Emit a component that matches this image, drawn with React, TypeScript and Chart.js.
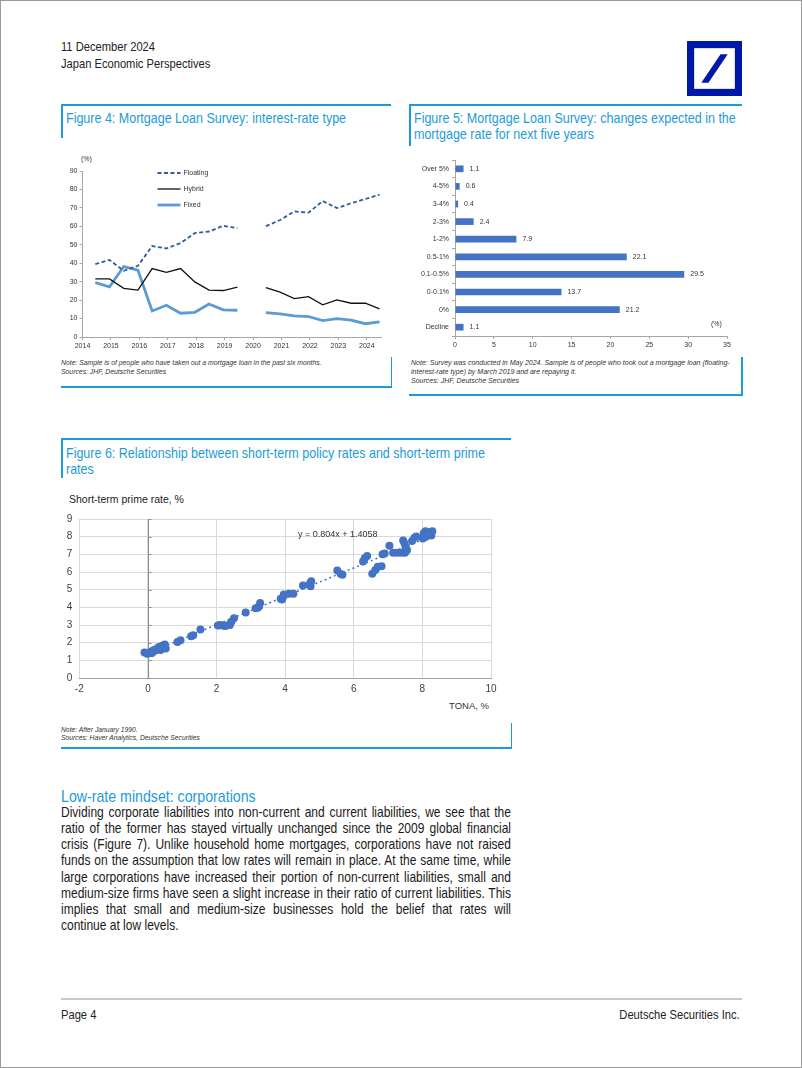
import React, { useEffect, useRef } from 'react';
import { Chart, registerables } from 'chart.js';

Chart.register(...registerables);

const CHART_FONT = "'Liberation Sans', Arial, sans-serif";
const PAGE_FONT = "'Liberation Sans', Arial, sans-serif";
const TITLE_BLUE = '#1d9bd6';
const BAR_BLUE = '#4472c4';
const SQUEEZE = 0.9;
const BODY_SQUEEZE = 0.865;

Chart.defaults.font.family = CHART_FONT;

// ---------- Figure 4: interest-rate type (share, %) ----------
const surveyTimes = [
  2014.45, 2014.95, 2015.45, 2015.95, 2016.45, 2016.95, 2017.45, 2017.95, 2018.45, 2018.95,
  2019.45, 2019.95, 2020.45, 2020.95, 2021.45, 2021.95, 2022.45, 2022.95, 2023.45, 2023.95, 2024.45,
];
const yearTicks = [2014, 2015, 2016, 2017, 2018, 2019, 2020, 2021, 2022, 2023, 2024];
const floatingShare = [39.5, 41.8, 35.9, 38.6, 49.3, 48.0, 50.9, 56.3, 57.2, 60.3, 59.1, null, 60.1, 63.4, 68.1, 67.4, 73.7, 69.9, 72.5, 74.8, 77.2];
const hybridShare = [31.5, 31.5, 26.4, 25.4, 37.1, 35.1, 37.1, 29.9, 25.4, 25.2, 27.0, null, 26.8, 24.3, 20.8, 21.9, 17.4, 20.1, 18.3, 18.3, 15.2];
const fixedShare = [29.5, 27.2, 38.2, 36.2, 14.1, 17.2, 12.9, 13.4, 17.9, 14.7, 14.5, null, 13.2, 12.5, 11.4, 11.1, 8.9, 10.0, 9.2, 7.2, 8.2];

// ---------- Figure 5: expected change in mortgage rate (%) ----------
const rateChangeCategories = ['Over 5%', '4-5%', '3-4%', '2-3%', '1-2%', '0.5-1%', '0.1-0.5%', '0-0.1%', '0%', 'Decline'];
const rateChangeShares = [1.1, 0.6, 0.4, 2.4, 7.9, 22.1, 29.5, 13.7, 21.2, 1.1];

// ---------- Figure 6: TONA vs short-term prime rate ----------
const tonaRates = [
  -0.1, -0.02, 0.08, 0.17, 0.27, 0.32, 0.42, 0.49, 0.52, 0.37, 0.12, 0.22, 0.05, 0.45,
  0.86, 0.95, 1.26, 1.32, 1.53,
  2.04, 2.17, 2.29, 2.39, 2.43, 2.51, 2.1, 2.25,
  2.85, 3.14, 3.24, 3.27, 3.2,
  3.87, 3.91, 3.96, 4.11, 4.24, 3.96,
  4.52, 4.72, 4.76, 4.74,
  5.52, 5.62, 5.67,
  6.27, 6.32, 6.39,
  6.54, 6.63, 6.7, 6.81,
  6.84, 6.9, 7.04,
  7.15, 7.27, 7.38, 7.49, 7.54,
  7.44, 7.48, 7.51, 7.55,
  7.7, 7.77, 7.82,
  8.01, 8.04, 8.09, 8.14, 8.22, 8.26, 8.29, 8.09, 8.2,
];
const primeRates = [
  1.45, 1.37, 1.49, 1.58, 1.67, 1.76, 1.82, 1.89, 1.67, 1.58, 1.42, 1.55, 1.4, 1.75,
  2.04, 2.13, 2.36, 2.42, 2.75,
  2.97, 2.97, 2.97, 3.0, 3.19, 3.38, 3.0, 2.95,
  3.71, 3.95, 4.05, 4.24, 3.98,
  4.49, 4.45, 4.73, 4.77, 4.77, 4.64,
  5.23, 5.34, 5.47, 5.19,
  6.09, 5.89, 5.85,
  6.59, 6.78, 6.91,
  5.9, 6.12, 6.3, 6.33,
  7.01, 7.05, 7.48,
  7.09, 7.09, 7.09, 7.09, 7.22,
  7.79, 7.61, 7.42, 7.24,
  7.76, 7.94, 8.01,
  7.89, 8.2, 8.3, 8.15, 8.25, 8.06, 8.3, 7.98, 8.12,
];
const trendSlope = 0.804;
const trendIntercept = 1.4058;
const trendRange = [-0.1, 8.3];

const bodyLines = [
  'Dividing corporate liabilities into non-current and current liabilities, we see that the',
  'ratio of the former has stayed virtually unchanged since the 2009 global financial',
  'crisis (Figure 7). Unlike household home mortgages, corporations have not raised',
  'funds on the assumption that low rates will remain in place. At the same time, while',
  'large corporations have increased their portion of non-current liabilities, small and',
  'medium-size firms have seen a slight increase in their ratio of current liabilities. This',
  'implies that small and medium-size businesses hold the belief that rates will',
  'continue at low levels.',
];

type TProps = {
  x: number; y: number; size: number; children: React.ReactNode;
  color?: string; italic?: boolean; right?: boolean; family?: string; squeeze?: number;
};
const T = ({ x, y, size, children, color = '#222', italic = false, right = false, family = PAGE_FONT, squeeze = 1 }: TProps) => {
  const lh = Math.round(size * 1.25);
  const style: React.CSSProperties = {
    position: 'absolute', top: y - lh / 2, fontSize: size, lineHeight: `${lh}px`, color,
    fontStyle: italic ? 'italic' : 'normal', fontFamily: family, whiteSpace: 'nowrap',
    transform: squeeze !== 1 ? `scaleX(${squeeze})` : undefined,
    transformOrigin: right ? 'right center' : 'left center',
  };
  if (right) style.right = 802 - x; else style.left = x;
  return <div style={style}>{children}</div>;
};

const Line = ({ x, y, w, h, color = TITLE_BLUE }: { x: number; y: number; w: number; h: number; color?: string }) => (
  <div style={{ position: 'absolute', left: x, top: y, width: w, height: h, background: color }} />
);

const axisGray = '#a6a6a6';

function Fig4() {
  const ref = useRef<HTMLCanvasElement>(null);
  useEffect(() => {
    const mk = (vals: (number | null)[]) => surveyTimes.map((t, i) => ({ x: t, y: vals[i] }));
    const legendPlugin = {
      id: 'fig4legend',
      afterDraw(chart: any) {
        const { ctx, chartArea } = chart;
        chart.data.datasets.forEach((ds: any, i: number) => {
          const y = chartArea.top + 2 + i * 16;
          const x0 = chartArea.left + 75;
          ctx.save();
          ctx.strokeStyle = ds.borderColor;
          ctx.lineWidth = ds.borderWidth;
          ctx.setLineDash(ds.borderDash || []);
          ctx.beginPath();
          ctx.moveTo(x0, y);
          ctx.lineTo(x0 + 23, y);
          ctx.stroke();
          ctx.setLineDash([]);
          ctx.fillStyle = '#333';
          ctx.font = `7px ${CHART_FONT}`;
          ctx.textBaseline = 'middle';
          ctx.fillText(ds.label, x0 + 26, y);
          ctx.restore();
        });
      },
    };
    const chart = new Chart(ref.current!, {
      type: 'line',
      data: {
        datasets: [
          { label: 'Floating', data: mk(floatingShare), borderColor: '#2f5d9e', borderWidth: 1.8, borderDash: [4, 2.5], pointRadius: 0, tension: 0 },
          { label: 'Hybrid', data: mk(hybridShare), borderColor: '#111111', borderWidth: 1.3, pointRadius: 0, tension: 0 },
          { label: 'Fixed', data: mk(fixedShare), borderColor: '#5b9bd5', borderWidth: 2.8, pointRadius: 0, tension: 0 },
        ] as any,
      },
      options: {
        animation: false, responsive: false, maintainAspectRatio: false,
        layout: { padding: { top: 25, right: 10, left: 0, bottom: 0 } },
        plugins: { legend: { display: false }, tooltip: { enabled: false } },
        scales: {
          x: {
            type: 'linear', min: 2014, max: 2024.5,
            afterBuildTicks: (s: any) => { s.ticks = yearTicks.map((v) => ({ value: v })); },
            afterFit: (s: any) => { s.height = 14; },
            ticks: { font: { size: 7 }, color: '#333', padding: 1.5, maxRotation: 0, callback: (v: any) => String(v) },
            grid: { drawOnChartArea: false, drawTicks: true, tickLength: 3, color: axisGray },
            border: { color: axisGray },
          },
          y: {
            min: 0, max: 90,
            afterFit: (s: any) => { s.width = 21.5; },
            ticks: { stepSize: 10, font: { size: 7 }, color: '#333', padding: 2 },
            grid: { drawOnChartArea: false, tickLength: 3, color: axisGray },
            border: { color: axisGray },
          },
        },
      } as any,
      plugins: [legendPlugin],
    });
    return () => chart.destroy();
  }, []);
  return <canvas ref={ref} width={330} height={205} style={{ position: 'absolute', left: 60, top: 145, width: 330, height: 205 }} />;
}

function Fig5() {
  const ref = useRef<HTMLCanvasElement>(null);
  useEffect(() => {
    const labelsPlugin = {
      id: 'fig5labels',
      afterDatasetsDraw(chart: any) {
        const { ctx } = chart;
        const meta = chart.getDatasetMeta(0);
        ctx.save();
        ctx.fillStyle = '#333';
        ctx.font = `7px ${CHART_FONT}`;
        ctx.textBaseline = 'middle';
        meta.data.forEach((bar: any, i: number) => {
          ctx.fillText(rateChangeShares[i].toFixed(1), bar.x + 6, bar.y);
        });
        ctx.restore();
      },
    };
    const chart = new Chart(ref.current!, {
      type: 'bar',
      data: {
        labels: rateChangeCategories,
        datasets: [{ data: rateChangeShares, backgroundColor: BAR_BLUE, barPercentage: 0.38, categoryPercentage: 1 }],
      },
      options: {
        indexAxis: 'y', animation: false, responsive: false, maintainAspectRatio: false,
        layout: { padding: { top: 9, right: 15, left: 0, bottom: 0 } },
        plugins: { legend: { display: false }, tooltip: { enabled: false } },
        scales: {
          x: {
            min: 0, max: 35,
            afterFit: (s: any) => { s.height = 14; },
            ticks: { stepSize: 5, font: { size: 7 }, color: '#333', padding: 1.5 },
            grid: { drawOnChartArea: false, tickLength: 3, color: axisGray },
            border: { color: axisGray },
          },
          y: {
            afterFit: (s: any) => { s.width = 46; },
            ticks: { font: { size: 7 }, color: '#333', padding: 3 },
            grid: { drawOnChartArea: false, tickLength: 3, color: axisGray, offset: true },
            border: { color: axisGray },
          },
        },
      } as any,
      plugins: [labelsPlugin],
    });
    return () => chart.destroy();
  }, []);
  return <canvas ref={ref} width={333} height={199} style={{ position: 'absolute', left: 408, top: 150, width: 333, height: 199 }} />;
}

function Fig6() {
  const ref = useRef<HTMLCanvasElement>(null);
  useEffect(() => {
    const zeroAxisPlugin = {
      id: 'zeroAxis',
      beforeDatasetsDraw(chart: any) {
        const { ctx, chartArea, scales } = chart;
        const x0 = Math.round(scales.x.getPixelForValue(0)) + 0.5;
        ctx.save();
        ctx.strokeStyle = '#8c8c8c';
        ctx.lineWidth = 1;
        ctx.beginPath();
        ctx.moveTo(x0, chartArea.top);
        ctx.lineTo(x0, chartArea.bottom);
        scales.y.ticks.forEach((t: any) => {
          const py = Math.round(scales.y.getPixelForValue(t.value)) + 0.5;
          ctx.moveTo(x0, py);
          ctx.lineTo(x0 + 3, py);
        });
        ctx.stroke();
        ctx.restore();
      },
    };
    const points = tonaRates.map((x, i) => ({ x, y: primeRates[i] }));
    const trend = trendRange.map((x) => ({ x, y: trendSlope * x + trendIntercept }));
    const chart = new Chart(ref.current!, {
      type: 'scatter',
      data: {
        datasets: [
          { type: 'line', data: trend, borderColor: BAR_BLUE, borderWidth: 1.5, borderDash: [2, 3], pointRadius: 0, fill: false, order: 2 },
          { data: points, backgroundColor: BAR_BLUE, borderColor: BAR_BLUE, borderWidth: 0, pointRadius: 4, order: 1 },
        ] as any,
      },
      options: {
        animation: false, responsive: false, maintainAspectRatio: false,
        layout: { padding: { top: 10, right: 20, left: 0, bottom: 0 } },
        plugins: { legend: { display: false }, tooltip: { enabled: false } },
        scales: {
          x: {
            type: 'linear', min: -2, max: 10,
            afterFit: (s: any) => { s.height = 16; },
            ticks: { stepSize: 2, font: { size: 10 }, color: '#404040', padding: 5, maxRotation: 0 },
            grid: { color: '#d9d9d9', drawTicks: false },
            border: { color: '#a6a6a6' },
          },
          y: {
            min: 0, max: 9,
            afterFit: (s: any) => { s.width = 18.3; },
            ticks: { stepSize: 1, font: { size: 10 }, color: '#404040', padding: 7 },
            grid: { color: '#d9d9d9', drawTicks: false },
            border: { display: false },
          },
        },
      } as any,
      plugins: [zeroAxisPlugin],
    });
    return () => chart.destroy();
  }, []);
  return <canvas ref={ref} width={450} height={188} style={{ position: 'absolute', left: 60, top: 505, width: 450, height: 188 }} />;
}

function Logo() {
  return (
    <svg style={{ position: 'absolute', left: 686, top: 40 }} width={55} height={55} viewBox="0 0 100 100">
      <rect x={0} y={0} width={100} height={100} fill="#0018a8" />
      <rect x={13} y={13} width={74} height={74} fill="#ffffff" />
      <polygon points="26,76 39,76 74,24 61,24" fill="#0018a8" />
    </svg>
  );
}

export default function App() {
  useEffect(() => {
    document.body.style.margin = '0';
  }, []);
  const sq = SQUEEZE;
  const bsq = BODY_SQUEEZE;
  return (
    <div style={{ position: 'absolute', left: 0, top: 0, width: 802, height: 1068, background: '#fff', boxSizing: 'border-box', border: '1px solid #9a9a9a', overflow: 'hidden', fontFamily: PAGE_FONT }}>
      <T x={60} y={46} size={12.4} squeeze={sq}>11 December 2024</T>
      <T x={60} y={63} size={12.4} squeeze={sq}>Japan Economic Perspectives</T>
      <Logo />

      {/* Figure 4 frame */}
      <Line x={60} y={103} w={330} h={1.5} />
      <Line x={60} y={103} w={1.5} h={34} />
      <T x={65} y={117} size={13.9} squeeze={sq} color={TITLE_BLUE}>Figure 4: Mortgage Loan Survey: interest-rate type</T>
      <T x={80} y={157} size={7} family={CHART_FONT} color="#333">(%)</T>
      <Fig4 />
      <T x={60} y={362} size={7.6} squeeze={sq} italic color="#333">Note: Sample is of people who have taken out a mortgage loan in the past six months.</T>
      <T x={60} y={371} size={7.6} squeeze={sq} italic color="#333">Sources: JHF, Deutsche Securities</T>
      <Line x={60} y={385} w={331} h={1.5} />
      <Line x={389.5} y={356} w={1.5} h={30} />

      {/* Figure 5 frame */}
      <Line x={408} y={103} w={333} h={1.5} />
      <Line x={408} y={103} w={1.5} h={42} />
      <T x={413} y={117} size={13.9} squeeze={sq} color={TITLE_BLUE}>Figure 5: Mortgage Loan Survey: changes expected in the</T>
      <T x={413} y={133} size={13.9} squeeze={sq} color={TITLE_BLUE}>mortgage rate for next five years</T>
      <Fig5 />
      <T x={710} y={322} size={7} family={CHART_FONT} color="#333">(%)</T>
      <T x={410} y={362} size={7.8} squeeze={sq} italic color="#333">Note: Survey was conducted in May 2024. Sample is of people who took out a mortgage loan (floating-</T>
      <T x={410} y={371} size={7.8} squeeze={sq} italic color="#333">interest-rate type) by March 2019 and are repaying it.</T>
      <T x={410} y={380} size={7.8} squeeze={sq} italic color="#333">Sources: JHF, Deutsche Securities</T>
      <Line x={408} y={393} w={334} h={1.5} />
      <Line x={740} y={356} w={1.5} h={39} />

      {/* Figure 6 frame */}
      <Line x={60} y={437} w={450} h={1.5} />
      <Line x={60} y={437} w={1.5} h={40} />
      <T x={65} y={452} size={13.9} squeeze={sq} color={TITLE_BLUE}>Figure 6: Relationship between short-term policy rates and short-term prime</T>
      <T x={65} y={468} size={13.9} squeeze={sq} color={TITLE_BLUE}>rates</T>
      <T x={68} y={498} size={10.5} family={CHART_FONT} color="#222">Short-term prime rate, %</T>
      <Fig6 />
      <T x={297} y={533} size={9} family={CHART_FONT} color="#333">y = 0.804x + 1.4058</T>
      <T x={448} y={705} size={9.5} family={CHART_FONT} color="#333">TONA,  %</T>
      <T x={60} y={728} size={7.5} squeeze={sq} italic color="#333">Note: After January 1990.</T>
      <T x={60} y={736} size={7.5} squeeze={sq} italic color="#333">Sources: Haver Analytics, Deutsche Securities</T>
      <Line x={60} y={746} w={451} h={1.5} />
      <Line x={509.5} y={722} w={1.5} h={26} />

      {/* Text section */}
      <T x={60} y={795} size={16.4} squeeze={bsq} color={TITLE_BLUE}>Low-rate mindset: corporations</T>
      <div style={{ position: 'absolute', left: 60, top: 803, width: 450 / bsq, transform: `scaleX(${bsq})`, transformOrigin: 'left top', fontSize: 13.9, lineHeight: '16.15px', color: '#1a1a1a', fontFamily: PAGE_FONT }}>
        {bodyLines.map((line, i) => (
          <div key={i} style={{ textAlign: 'justify', textAlignLast: i === bodyLines.length - 1 ? 'left' : 'justify', whiteSpace: 'nowrap' } as any}>{line}</div>
        ))}
      </div>

      {/* Footer */}
      <Line x={60} y={997} w={681} h={2} color="#c8c8c8" />
      <T x={60} y={1014} size={12.4} squeeze={sq}>Page 4</T>
      <T x={741} y={1014} size={12.4} squeeze={sq} right>Deutsche Securities Inc.</T>
    </div>
  );
}
